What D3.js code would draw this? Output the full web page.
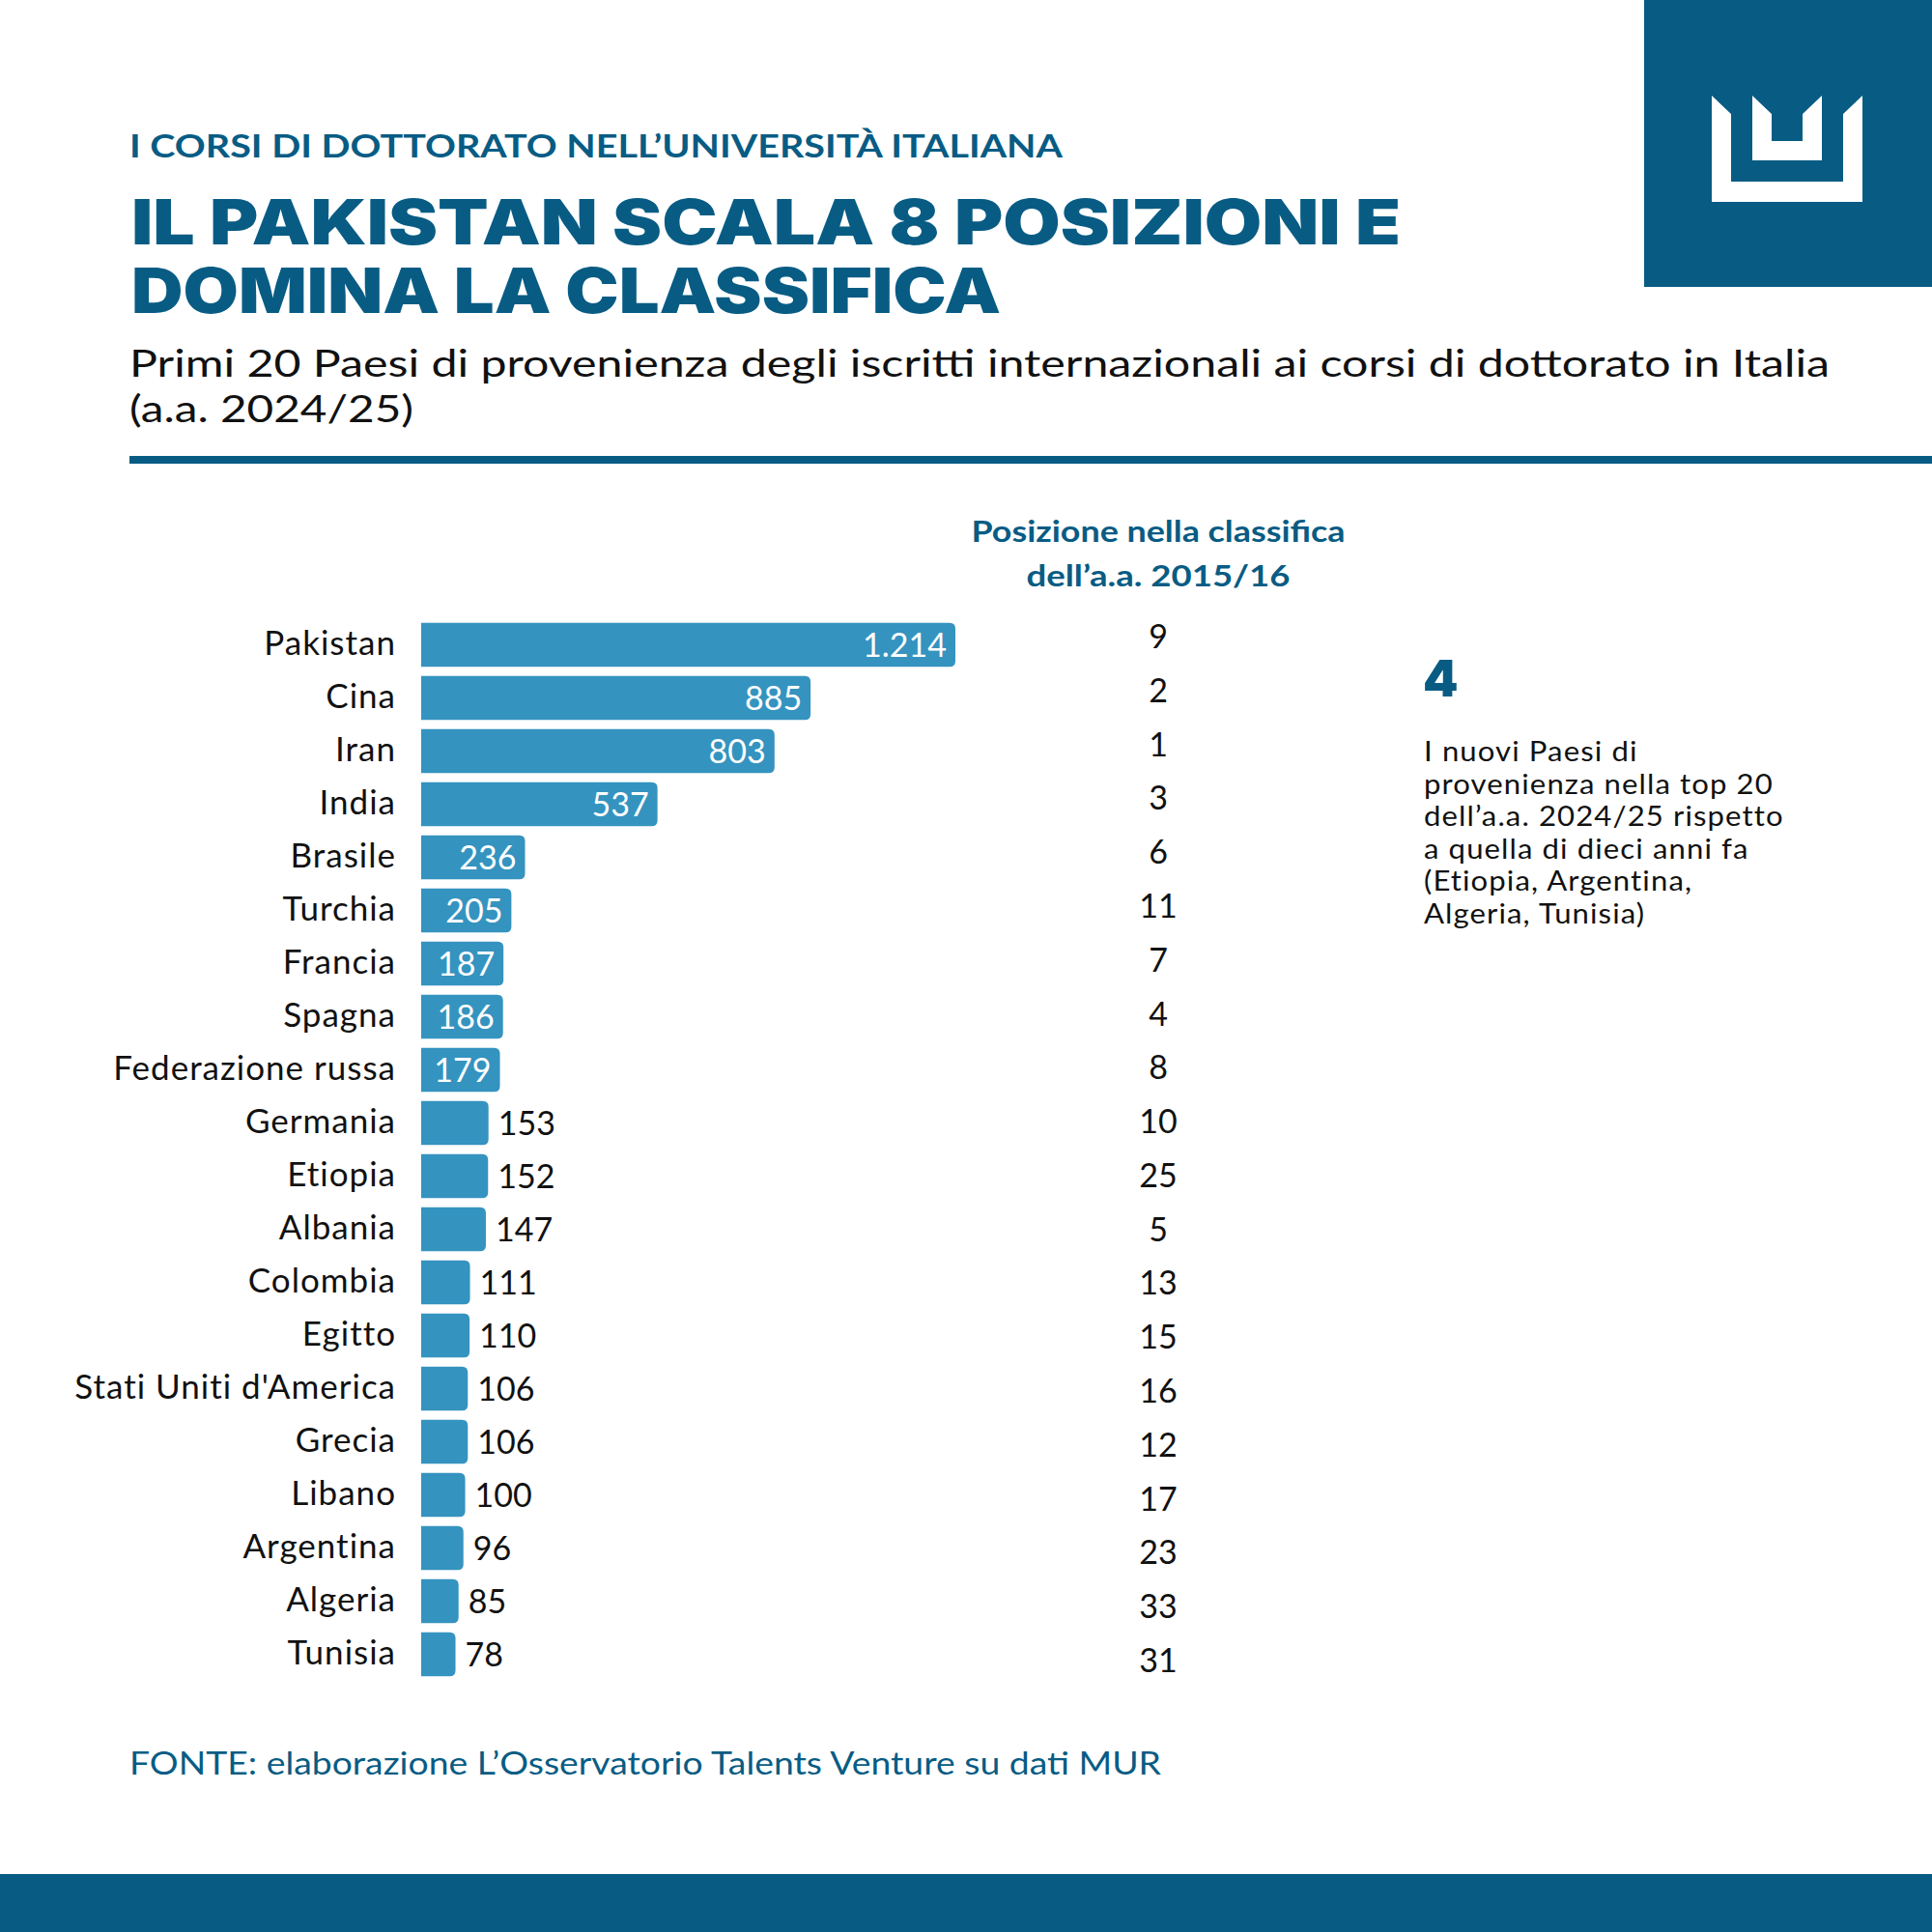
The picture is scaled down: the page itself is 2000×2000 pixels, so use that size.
<!DOCTYPE html>
<html>
<head>
<meta charset="utf-8">
<script src="https://cdn.jsdelivr.net/npm/d3@7"></script>
<style>
  body { margin: 0; background: #fff; }
  text { font-family: Lato, "Open Sans", sans-serif; }
</style>
</head>
<body>
<svg id="chart" width="2000" height="2000"></svg>
<script>
// data
const countries = ["Pakistan", "Cina", "Iran", "India", "Brasile", "Turchia", "Francia", "Spagna",
    "Federazione russa", "Germania", "Etiopia", "Albania", "Colombia", "Egitto",
    "Stati Uniti d'America", "Grecia", "Libano", "Argentina", "Algeria", "Tunisia"];
const enrolled = [1214, 885, 803, 537, 236, 205, 187, 186, 179, 153, 152, 147, 111, 110, 106, 106, 100, 96, 85, 78];
const rank2015 = [9, 2, 1, 3, 6, 11, 7, 4, 8, 10, 25, 5, 13, 15, 16, 12, 17, 23, 33, 31];

const titleLines = ["IL PAKISTAN SCALA 8 POSIZIONI E", "DOMINA LA CLASSIFICA"];
const subtitleLines = ["Primi 20 Paesi di provenienza degli iscritti internazionali ai corsi di dottorato in Italia", "(a.a. 2024/25)"];
const headerLines = ["Posizione nella classifica", "dell’a.a. 2015/16"];
const noteLines = ["I nuovi Paesi di", "provenienza nella top 20", "dell’a.a. 2024/25 rispetto",
    "a quella di dieci anni fa", "(Etiopia, Argentina,", "Algeria, Tunisia)"];

const dark = "#085c84";
const barColor = "#3593bf";
const ink = "#111";

const it = d3.formatLocale({decimal: ",", thousands: ".", grouping: [3], currency: ["€", ""]});
const fmt = it.format(",d");

const svg = d3.select("#chart");
const data = countries.map((c, i) => ({country: c, value: enrolled[i], rank: rank2015[i]}));

drawFrame();
drawHeader();
drawBars();
drawNote();

function drawFrame() {
    // logo box top right
    svg.append("rect").attr("x", 1702).attr("y", 0).attr("width", 298).attr("height", 297).attr("fill", dark);
    let logo = svg.append("g").attr("fill", "#fff");
    logo.append("polygon").attr("points", "1772,99 1792,118 1792,188 1908,188 1908,118 1928,99 1928,209 1772,209");
    logo.append("polygon").attr("points", "1814,99 1834,118 1834,146 1866,146 1866,118 1886,99 1886,166 1814,166");

    // rule under subtitle, bottom band
    svg.append("rect").attr("x", 134).attr("y", 472).attr("width", 1866).attr("height", 8).attr("fill", dark);
    svg.append("rect").attr("x", 0).attr("y", 1940).attr("width", 2000).attr("height", 60).attr("fill", dark);

    svg.append("text")
        .attr("x", 134).attr("y", 1837)
        .attr("font-size", 33).attr("fill", dark)
        .attr("textLength", 1068).attr("lengthAdjust", "spacingAndGlyphs")
        .text("FONTE: elaborazione L’Osservatorio Talents Venture su dati MUR");
}

function drawHeader() {
    svg.append("text")
        .attr("x", 134).attr("y", 163)
        .attr("font-size", 33).attr("font-weight", 700).attr("fill", dark)
        .attr("textLength", 966).attr("lengthAdjust", "spacingAndGlyphs")
        .text("I CORSI DI DOTTORATO NELL’UNIVERSITÀ ITALIANA");

    let tlen = [1314, 900];
    svg.selectAll("text.title")
        .data(titleLines)
        .join("text")
        .attr("class", "title")
        .attr("x", 136).attr("y", (d, i) => 253 + i * 71)
        .attr("font-size", 64).attr("font-weight", 900).attr("fill", dark)
        .style("font-family", "Inter, Roboto, sans-serif")
        .attr("textLength", (d, i) => tlen[i]).attr("lengthAdjust", "spacingAndGlyphs")
        .text(d => d);

    let slen = [1760, 294];
    svg.selectAll("text.sub")
        .data(subtitleLines)
        .join("text")
        .attr("class", "sub")
        .attr("x", 134).attr("y", (d, i) => 390 + i * 47)
        .attr("font-size", 39).attr("fill", ink)
        .attr("textLength", (d, i) => slen[i]).attr("lengthAdjust", "spacingAndGlyphs")
        .text(d => d);
}

function drawBars() {
    let x = d3.scaleLinear().domain([0, 1214]).range([436, 989]);
    let y = d3.scaleBand()
        .domain(countries)
        .range([640, 1740])
        .paddingInner(0.17)
        .paddingOuter(0.085);
    let bh = y.bandwidth();
    let r = 6;
    // the rank column runs on a slightly wider pitch than the bars
    let yRank = d3.scalePoint().domain(countries).range([671, 1731]);

    // bar with rounded right end
    let barPath = d => {
        let x0 = x(0), x1 = x(d.value), y0 = y(d.country), y1 = y0 + bh;
        return `M${x0},${y0}H${x1 - r}Q${x1},${y0} ${x1},${y0 + r}V${y1 - r}Q${x1},${y1} ${x1 - r},${y1}H${x0}Z`;
    };

    svg.append("g").selectAll("path")
        .data(data)
        .join("path")
        .attr("d", barPath)
        .attr("fill", barColor);

    svg.append("g").selectAll("text")
        .data(data)
        .join("text")
        .attr("x", 410)
        .attr("y", d => y(d.country) + bh / 2 + 10)
        .attr("text-anchor", "end")
        .attr("font-size", 35).attr("letter-spacing", 1).attr("fill", ink)
        .text(d => d.country);

    let inside = d => d.value >= 170;
    svg.append("g").selectAll("text")
        .data(data)
        .join("text")
        .attr("x", d => inside(d) ? x(d.value) - 9 : x(d.value) + 10)
        .attr("y", d => y(d.country) + bh / 2 + 12)
        .attr("text-anchor", d => inside(d) ? "end" : "start")
        .attr("font-size", 34)
        .attr("fill", d => inside(d) ? "#fff" : ink)
        .text(d => fmt(d.value));

    svg.selectAll("text.head")
        .data(headerLines)
        .join("text")
        .attr("class", "head")
        .attr("x", 1199).attr("y", (d, i) => 561 + i * 46)
        .attr("text-anchor", "middle")
        .attr("font-size", 31).attr("font-weight", 700).attr("fill", dark)
        .attr("textLength", (d, i) => [387, 273][i]).attr("lengthAdjust", "spacingAndGlyphs")
        .text(d => d);

    svg.append("g").selectAll("text")
        .data(data)
        .join("text")
        .attr("x", 1199)
        .attr("y", d => yRank(d.country))
        .attr("text-anchor", "middle")
        .attr("font-size", 34).attr("fill", ink)
        .text(d => d.rank);
}

function drawNote() {
    svg.append("text")
        .attr("x", 1473).attr("y", 721)
        .attr("font-size", 52).attr("font-weight", 900).attr("fill", dark)
        .style("font-family", "Inter, Roboto, sans-serif")
        .text("4");

    // tight leading as in the original: smaller font, widened a little
    let note = svg.append("g").attr("transform", "translate(1474,0) scale(1.11,1)");
    note.selectAll("text")
        .data(noteLines)
        .join("text")
        .attr("x", 0).attr("y", (d, i) => 788 + i * 33.6)
        .attr("font-size", 28).attr("letter-spacing", 1).attr("fill", ink)
        .text(d => d);
}
</script>
</body>
</html>
